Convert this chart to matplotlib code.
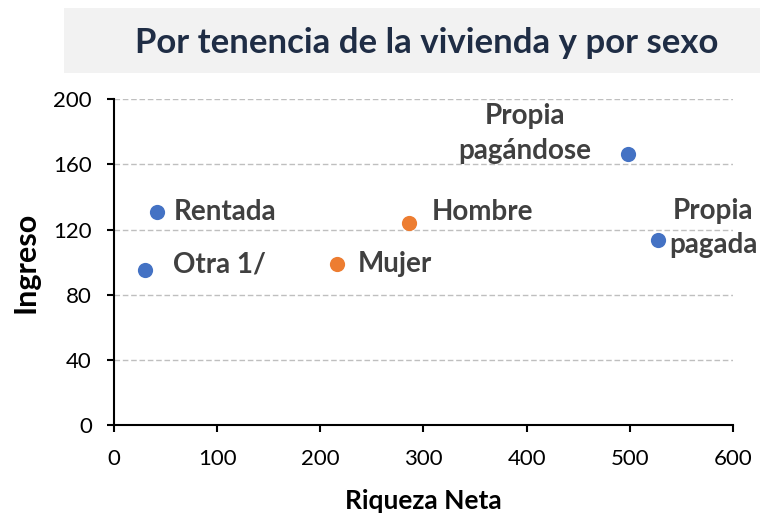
import matplotlib
matplotlib.use("Agg")
import matplotlib.pyplot as plt
from matplotlib.patches import Rectangle

# Data: net wealth (x) vs income (y) by housing tenure and by sex
labels = ["Rentada", "Otra 1/", "Propia\npagándose", "Propia\npagada", "Hombre", "Mujer"]
riqueza = [42, 30, 498, 527, 286, 216]
ingreso = [131, 95, 166.5, 113.5, 124, 99]
grupo = ["tenencia", "tenencia", "tenencia", "tenencia", "sexo", "sexo"]

x_ticks = [0, 100, 200, 300, 400, 500, 600]
y_ticks = [0, 40, 80, 120, 160, 200]

colors = {"tenencia": "#4472C4", "sexo": "#ED7D31"}

# label offsets (points) and alignment for each annotation
offsets = [(12, 0, "left"), (20, 4, "left"), (-74, 14.5, "center"),
           (40, 9, "center"), (16, 8, "left"), (15, 0, "left")]

plt.rcParams["font.family"] = ["Lato", "DejaVu Sans"]

fig = plt.figure(figsize=(7.74, 5.17), dpi=100)
ax = fig.add_axes([0.1473, 0.177, 0.947 - 0.1473, 0.8085 - 0.177])

# title band
fig.patches.append(Rectangle((64 / 774, 1 - 73 / 517), (760 - 64) / 774, 65 / 517,
                             transform=fig.transFigure, facecolor="#F2F2F2",
                             edgecolor="none", zorder=0))
fig.text(427 / 774, 1 - 43 / 517, "Por tenencia de la vivienda y por sexo",
         ha="center", va="center", fontsize=25, fontweight="bold", color="#1F2D45")

for xv, yv, g in zip(riqueza, ingreso, grupo):
    ax.scatter(xv, yv, s=120, color=colors[g], zorder=3, linewidths=0)

for lab, xv, yv, (dx, dy, ha) in zip(labels, riqueza, ingreso, offsets):
    ax.annotate(lab, (xv, yv), xytext=(dx, dy), textcoords="offset points",
                ha=ha, va="center", fontsize=20, fontweight="bold",
                color="#404040", linespacing=1.4, multialignment="center")

ax.set_xlim(0, 600)
ax.set_ylim(0, 200)
ax.set_xticks(x_ticks)
ax.set_yticks(y_ticks)
ax.tick_params(axis="both", labelsize=16, colors="black", length=5, width=1.5,
               direction="out")
ax.tick_params(axis="x", pad=12)
ax.tick_params(axis="y", pad=11)

for v in y_ticks[1:]:
    ax.axhline(v, color="#BFBFBF", linestyle=(0, (4, 2)), linewidth=1, zorder=1)

for s in ["top", "right"]:
    ax.spines[s].set_visible(False)
for s in ["left", "bottom"]:
    ax.spines[s].set_linewidth(1.5)
    ax.spines[s].set_color("black")

# x-axis title placed near the bottom edge
fig.text(423 / 774, 1 - 509 / 517, "Riqueza Neta", ha="center", va="baseline",
         fontsize=19, fontweight="bold", color="black")
ax.set_ylabel("Ingreso", fontsize=22, fontweight="bold", labelpad=10)

fig.savefig("out.png", dpi=100)
